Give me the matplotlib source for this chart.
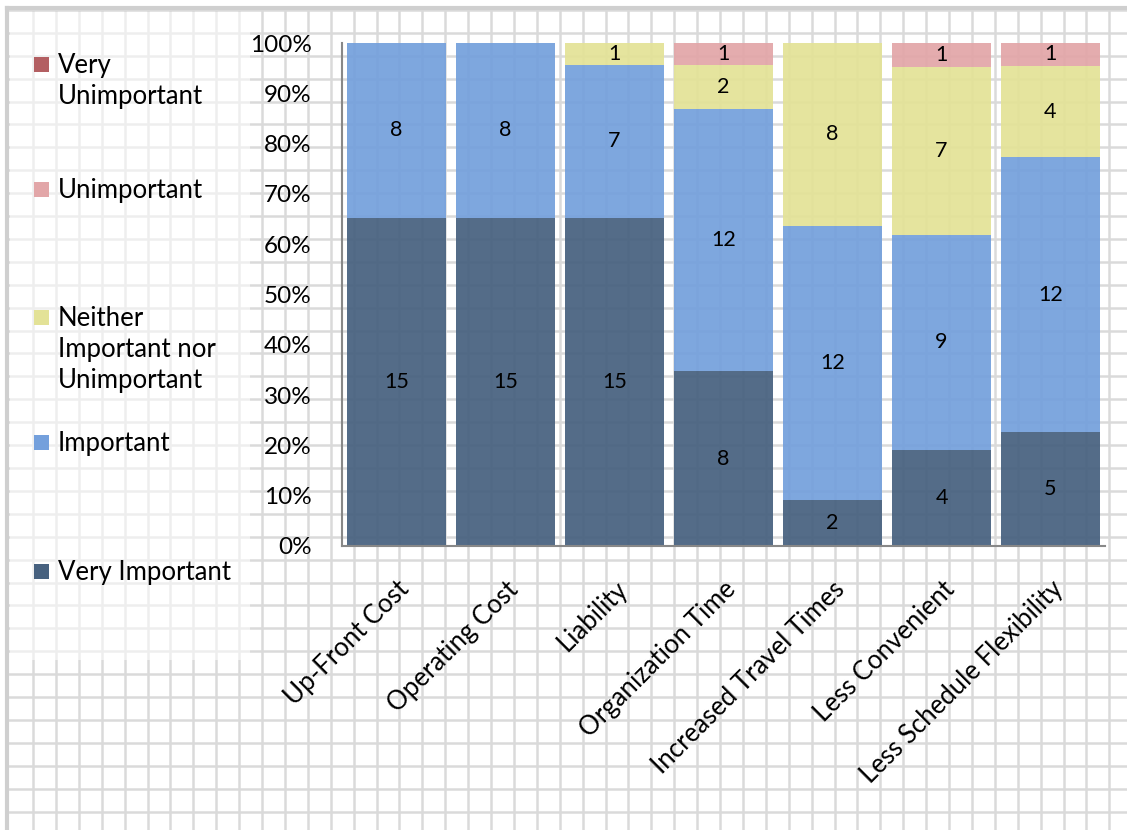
import matplotlib.pyplot as plt
import numpy as np
from matplotlib.lines import Line2D
from matplotlib.patches import Rectangle

plt.rcParams["font.family"] = ["Lato", "DejaVu Sans"]

# ── Survey counts ────────────────────────────────────────────────────────────
categories = ["Up-Front Cost", "Operating Cost", "Liability", "Organization Time",
              "Increased Travel Times", "Less Convenient", "Less Schedule Flexibility"]
very_important   = [15, 15, 15, 8, 2, 4, 5]
important        = [8, 8, 7, 12, 12, 9, 12]
neither          = [0, 0, 1, 2, 8, 7, 4]
unimportant      = [0, 0, 0, 1, 0, 1, 1]
very_unimportant = [0, 0, 0, 0, 0, 0, 0]

series_names = ["Very Important", "Important", "Neither\nImportant nor\nUnimportant",
                "Unimportant", "Very\nUnimportant"]
colors = ["#47617f", "#74a0dc", "#e3e297", "#e2a6a8", "#b35f62"]
# ─────────────────────────────────────────────────────────────────────────────

W, H = 1127, 830
fig = plt.figure(figsize=(W / 100, H / 100), dpi=100)
fig.patch.set_facecolor("white")


def fx(px):
    return px / W


def fy(py):
    return 1 - py / H


# graph-paper background
step = 22.9
for k in range(60):
    x = 33 + step * k
    if x > W:
        break
    fig.add_artist(Line2D([fx(x), fx(x)], [0, fy(10)], color="#dadada", lw=1.8, zorder=0))
for k in range(60):
    y = 10 + step * k
    if y > H:
        break
    fig.add_artist(Line2D([fx(8), 1], [fy(y), fy(y)], color="#dadada", lw=1.8, zorder=0))
# softened panel behind the legend
fig.add_artist(Rectangle((fx(10), fy(660)), fx(240), fy(12) - fy(660),
                         facecolor="white", alpha=0.55, edgecolor="none", zorder=0.5))
# outer border
fig.add_artist(Line2D([fx(7), fx(7)], [0, fy(8)], color="#cfcfcf", lw=3, zorder=1))
fig.add_artist(Line2D([fx(7), 1], [fy(8), fy(8)], color="#cfcfcf", lw=3, zorder=1))

ax_left, ax_right, ax_top, ax_bot = 342, 1105, 43, 546
ax = fig.add_axes([fx(ax_left), fy(ax_bot), fx(ax_right - ax_left), fy(ax_top) - fy(ax_bot)])
ax.patch.set_alpha(0)

counts = np.array([very_important, important, neither, unimportant, very_unimportant], float)
totals = counts.sum(axis=0)
shares = counts / totals * 100
x = np.arange(len(categories))

bottom = np.zeros(len(categories))
for i, (share, cnt) in enumerate(zip(shares, counts)):
    ax.bar(x, share, bottom=bottom, width=0.91, color=colors[i], alpha=0.93,
           edgecolor="none", zorder=2)
    for j in range(len(categories)):
        if cnt[j] > 0:
            ax.text(x[j], bottom[j] + share[j] / 2, f"{int(cnt[j])}", ha="center",
                    va="center", fontsize=15.5, color="black", zorder=3)
    bottom += share

ax.set_xlim(-0.5, len(categories) - 0.5)
ax.set_ylim(0, 100)
ax.set_yticks(np.arange(0, 101, 10))
ax.set_yticklabels([f"{v}%" for v in range(0, 101, 10)], fontsize=17.5)
ax.tick_params(axis="y", length=0, pad=22)
ax.tick_params(axis="x", length=0, pad=22)
ax.set_xticks(x)
ax.set_xticklabels(categories, rotation=45, ha="right", va="top",
                   rotation_mode="anchor", fontsize=18.5)
for side in ["top", "right"]:
    ax.spines[side].set_visible(False)
ax.spines["left"].set_color("#888888")
ax.spines["bottom"].set_color("#888888")
ax.spines["left"].set_linewidth(1.5)
ax.spines["bottom"].set_linewidth(1.5)

# legend, top to bottom
legend_rows = [(4, 65), (3, 190), (2, 318), (1, 443), (0, 572)]
for idx, ytop in legend_rows:
    fig.add_artist(Rectangle((fx(34), fy(ytop + 7)), fx(15), fy(0) - fy(15),
                             facecolor=colors[idx], edgecolor="none", zorder=3))
    fig.text(fx(58), fy(ytop - 12), series_names[idx], ha="left", va="top",
             fontsize=18.5, linespacing=1.3, zorder=3)

fig.savefig("out.png", dpi=100)
